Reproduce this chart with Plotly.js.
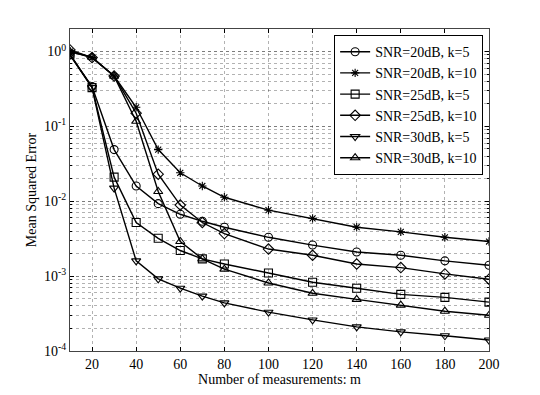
<!DOCTYPE html>
<html>
<head>
<meta charset="utf-8">
<script src="https://cdn.plot.ly/plotly-3.0.1.min.js"></script>
<style>
  body { margin: 0; background: #fff; }
  #chart { width: 540px; height: 395px; }
</style>
</head>
<body>
<div id="chart"></div>
<script>
// measurements m
const m = [10, 20, 30, 40, 50, 60, 70, 80, 100, 120, 140, 160, 180, 200];

// Mean squared error per setting
const snr20k5  = [0.90, 0.34, 0.049, 0.016, 0.0093, 0.0067, 0.0054, 0.0045, 0.0033, 0.0026, 0.0021, 0.0019, 0.0016, 0.0014];
const snr20k10 = [1.00, 0.83, 0.47, 0.18, 0.049, 0.024, 0.016, 0.0113, 0.0076, 0.0059, 0.0045, 0.0039, 0.0033, 0.0029];
const snr25k5  = [0.92, 0.33, 0.021, 0.0052, 0.0032, 0.0022, 0.0017, 0.00145, 0.0011, 0.00083, 0.00069, 0.00057, 0.00052, 0.00045];
const snr25k10 = [1.05, 0.83, 0.47, 0.15, 0.023, 0.0089, 0.0052, 0.0037, 0.0023, 0.0019, 0.00145, 0.0013, 0.00107, 0.00091];
const snr30k5  = [0.90, 0.33, 0.015, 0.0016, 0.00092, 0.00069, 0.00054, 0.00044, 0.00033, 0.00026, 0.00021, 0.00018, 0.00016, 0.00014];
const snr30k10 = [1.00, 0.84, 0.47, 0.117, 0.0135, 0.0029, 0.0017, 0.00124, 0.00081, 0.00059, 0.00049, 0.00041, 0.00034, 0.00030];

const seriesNames = ["SNR=20dB, k=5", "SNR=20dB, k=10", "SNR=25dB, k=5",
                     "SNR=25dB, k=10", "SNR=30dB, k=5", "SNR=30dB, k=10"];
const seriesData = [snr20k5, snr20k10, snr25k5, snr25k10, snr30k5, snr30k10];
const symbols = ["circle-open", "asterisk-open", "square-open",
                 "diamond-open", "triangle-down-open", "triangle-up-open"];

const yTickVals = [1e-4, 1e-3, 1e-2, 1e-1, 1];
const yTickText = ["10<sup>-4</sup>", "10<sup>-3</sup>", "10<sup>-2</sup>", "10<sup>-1</sup>", "10<sup>0</sup>"];
const xTickVals = [20, 40, 60, 80, 100, 120, 140, 160, 180, 200];

const traces = seriesData.map((y, i) => ({
  x: m,
  y: y,
  name: seriesNames[i],
  type: "scatter",
  mode: "lines+markers",
  line: { color: "#000", width: 1.4 },
  marker: {
    symbol: symbols[i],
    size: symbols[i] === "asterisk-open" ? 7 : 8,
    color: "#000",
    line: { color: "#000", width: 1.1 }
  }
}));

const gridDot = "rgba(0,0,0,0.3)";

Plotly.newPlot("chart", traces, {
  width: 540,
  height: 395,
  margin: { l: 70, r: 51, t: 29, b: 44 },
  paper_bgcolor: "#fff",
  plot_bgcolor: "#fff",
  font: { family: "'Liberation Serif', 'Times New Roman', serif", color: "#000", size: 14 },
  showlegend: true,
  legend: {
    x: 0.986, xanchor: "right",
    y: 0.981, yanchor: "top",
    bgcolor: "#fff",
    bordercolor: "#000",
    borderwidth: 1,
    font: { size: 14 },
    tracegroupgap: 0,
    itemwidth: 30
  },
  xaxis: {
    range: [10, 200],
    tickvals: xTickVals,
    ticks: "inside",
    ticklen: 4,
    tickcolor: "#000",
    tickfont: { size: 14 },
    showline: true,
    mirror: "ticks",
    linecolor: "#444",
    linewidth: 1,
    showgrid: true,
    gridcolor: gridDot,
    griddash: "dot",
    gridwidth: 1,
    zeroline: false,
    title: { text: "Number of measurements: m", font: { size: 14 }, standoff: 2 }
  },
  yaxis: {
    type: "log",
    range: [-4, 0.301],
    tickvals: yTickVals,
    ticktext: yTickText,
    ticks: "inside",
    ticklen: 4,
    tickcolor: "#000",
    tickfont: { size: 14 },
    showline: true,
    mirror: "ticks",
    linecolor: "#444",
    linewidth: 1,
    showgrid: true,
    gridcolor: gridDot,
    griddash: "dot",
    gridwidth: 1,
    zeroline: false,
    minor: {
      dtick: "D1",
      showgrid: true,
      gridcolor: gridDot,
      griddash: "dot",
      gridwidth: 1,
      ticks: "inside",
      ticklen: 2,
      tickcolor: "#000"
    },
    title: { text: "Mean Squared Error", font: { size: 14 }, standoff: 4 }
  }
}, { displayModeBar: false, staticPlot: true });
</script>
</body>
</html>
